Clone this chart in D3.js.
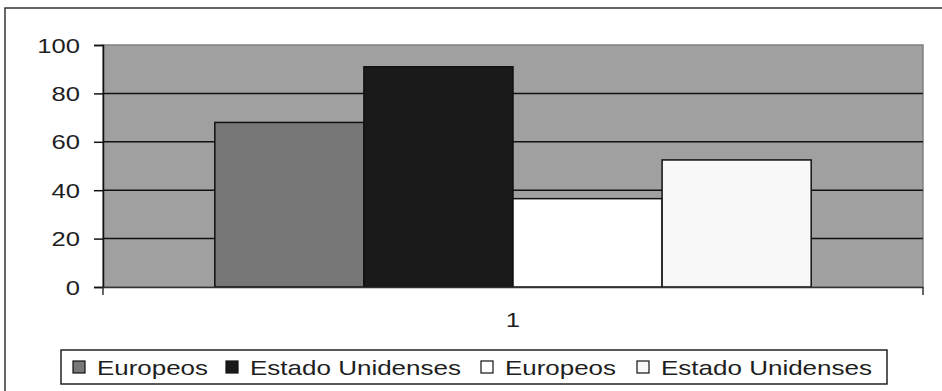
<!DOCTYPE html>
<html>
<head>
<meta charset="utf-8">
<script src="https://cdn.jsdelivr.net/npm/d3@7"></script>
<style>
  html, body { margin: 0; padding: 0; background: #fff; }
  svg { display: block; }
  text { font-family: "Liberation Sans", Arial, sans-serif; fill: #1e1e1e; }
</style>
</head>
<body>
<svg id="chart" width="942" height="391"></svg>
<script>
// Chart data
const categories = ["1"];
const seriesNames = ["Europeos", "Estado Unidenses", "Europeos", "Estado Unidenses"];
const seriesValues = [68, 91, 36.5, 52.5];
const seriesColors = ["#777777", "#1a1a1a", "#ffffff", "#f8f8f8"];
const yTicks = [0, 20, 40, 60, 80, 100];

const W = 942, H = 391;
const plot = { left: 103, right: 923, top: 45, bottom: 287 };
const stretch = 1.22; // glyphs are drawn wide

const svg = d3.select("#chart");

// outer chart frame (runs off the right and bottom edges)
svg.append("rect")
  .attr("x", 5).attr("y", 8)
  .attr("width", W + 10).attr("height", H + 10)
  .attr("fill", "#fff").attr("stroke", "#333").attr("stroke-width", 1.5);

const y = d3.scaleLinear().domain([0, 100]).range([plot.bottom, plot.top]);
const x0 = d3.scaleBand().domain(categories).range([plot.left, plot.right])
  .paddingInner(0).paddingOuter(0.1875);
const x1 = d3.scaleBand().domain(d3.range(seriesValues.length))
  .range([0, x0.bandwidth()]).padding(0);

// plot area background
svg.append("rect")
  .attr("x", plot.left).attr("y", plot.top)
  .attr("width", plot.right - plot.left).attr("height", plot.bottom - plot.top)
  .attr("fill", "#a0a0a0").attr("stroke", "#808080").attr("stroke-width", 1.5);

// horizontal gridlines
svg.append("g")
  .selectAll("line")
  .data(yTicks.filter(t => t > 0 && t < 100))
  .join("line")
  .attr("x1", plot.left).attr("x2", plot.right)
  .attr("y1", d => y(d)).attr("y2", d => y(d))
  .attr("stroke", "#111").attr("stroke-width", 1.5);

// bars
const rows = categories.map(c => ({ cat: c, vals: seriesValues }));
svg.append("g")
  .selectAll("g")
  .data(rows)
  .join("g")
  .attr("transform", d => `translate(${x0(d.cat)},0)`)
  .selectAll("rect")
  .data(d => d.vals.map((v, i) => ({ v, i })))
  .join("rect")
  .attr("x", d => x1(d.i))
  .attr("y", d => y(d.v))
  .attr("width", x1.bandwidth())
  .attr("height", d => y(0) - y(d.v))
  .attr("fill", d => seriesColors[d.i])
  .attr("stroke", "#111").attr("stroke-width", 1.5);

// y axis
const yAxis = d3.axisLeft(y).tickValues(yTicks).tickSize(9).tickPadding(14);
const gy = svg.append("g").attr("transform", `translate(${plot.left},0)`).call(yAxis);
gy.select(".domain").attr("stroke", "#111").attr("stroke-width", 1.5);
gy.selectAll(".tick line").attr("stroke", "#111").attr("stroke-width", 1.5);
gy.selectAll(".tick text")
  .attr("font-size", 21)
  .attr("x", null).attr("dy", null)
  .attr("dominant-baseline", "central")
  .attr("text-anchor", "end")
  .attr("transform", `translate(-23,0) scale(${stretch},1)`)
  .style("font-family", "'Liberation Sans', Arial, sans-serif")
  .attr("fill", "#1e1e1e");

// category axis
const xAxis = d3.axisBottom(x0).tickSize(0).tickPadding(0);
const gx = svg.append("g").attr("transform", `translate(0,${plot.bottom})`).call(xAxis);
gx.select(".domain").attr("stroke", "#333").attr("stroke-width", 1.5);
gx.selectAll(".tick text")
  .attr("font-size", 21)
  .attr("y", null).attr("dy", null)
  .attr("text-anchor", "middle")
  .attr("transform", `translate(0,40) scale(${stretch},1)`)
  .style("font-family", "'Liberation Sans', Arial, sans-serif")
  .attr("fill", "#1e1e1e");
// boundary tick marks on the category axis
gx.append("g").selectAll("line")
  .data(x0.range())
  .join("line")
  .attr("x1", d => d).attr("x2", d => d)
  .attr("y1", 0).attr("y2", 8)
  .attr("stroke", "#333").attr("stroke-width", 1.5);

// legend
const legend = { x: 61, y: 350, w: 826, h: 34 };
const itemX = [73, 226, 481, 637];
const textW = [111, 211, 111, 211];
const lg = svg.append("g");
lg.append("rect")
  .attr("x", legend.x).attr("y", legend.y)
  .attr("width", legend.w).attr("height", legend.h)
  .attr("fill", "#fff").attr("stroke", "#222").attr("stroke-width", 1.5);
const items = lg.selectAll("g.item")
  .data(seriesNames.map((n, i) => ({ n, i })))
  .join("g").attr("class", "item")
  .attr("transform", d => `translate(${itemX[d.i]},${legend.y + legend.h / 2})`);
items.append("rect")
  .attr("x", 0).attr("y", -6).attr("width", 12).attr("height", 12)
  .attr("fill", d => seriesColors[d.i])
  .attr("stroke", "#111").attr("stroke-width", 1.2);
items.append("text")
  .attr("x", 24).attr("y", 0)
  .attr("dominant-baseline", "central")
  .attr("font-size", 21)
  .attr("textLength", d => textW[d.i])
  .attr("lengthAdjust", "spacingAndGlyphs")
  .text(d => d.n);
</script>
</body>
</html>
